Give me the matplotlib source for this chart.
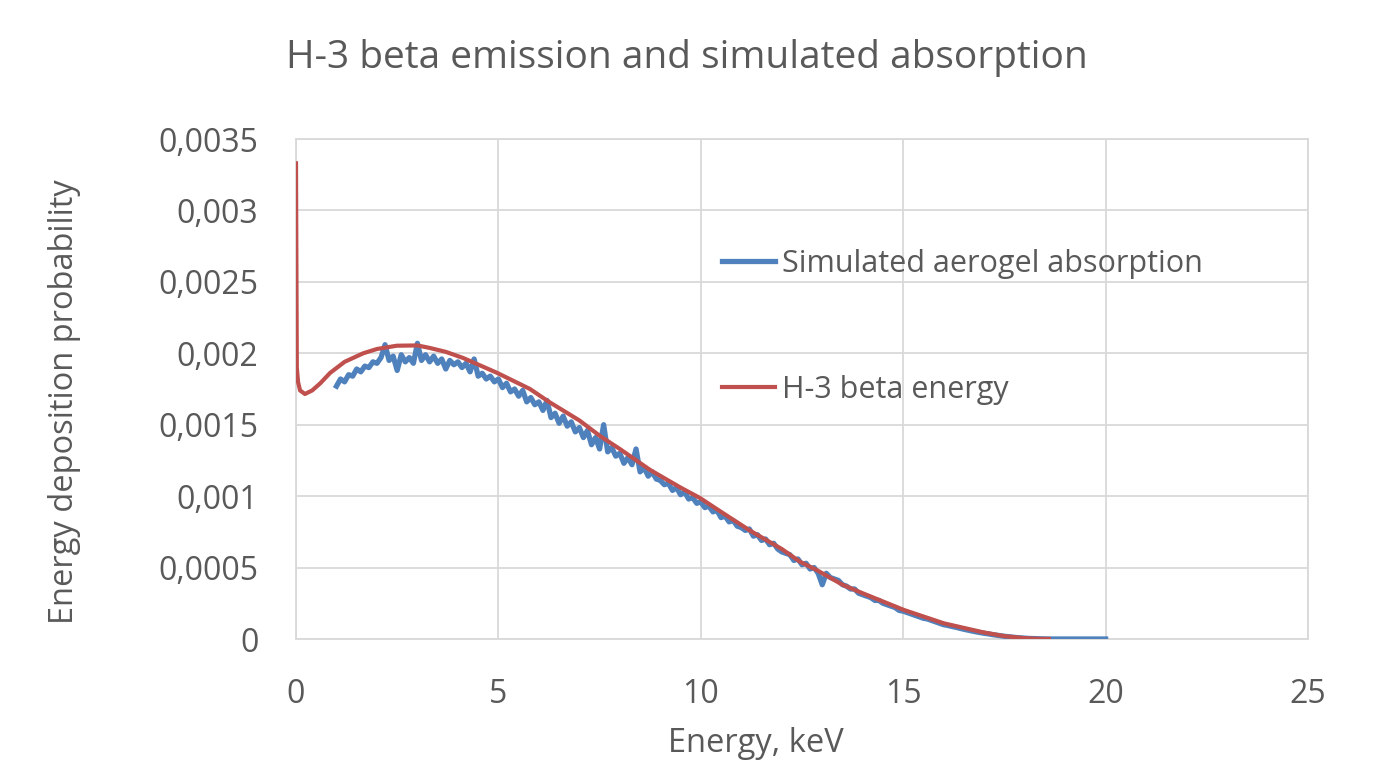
import numpy as np
import matplotlib.pyplot as plt
from matplotlib.ticker import FuncFormatter

plt.rcParams['font.family'] = ['Open Sans', 'DejaVu Sans']

# H-3 beta energy spectrum, values in units of 1e-3
beta_x = [0, 0.02, 0.05, 0.1, 0.22, 0.4, 0.6, 0.84, 1.2, 1.66, 2.0, 2.49, 3.0,
          3.31, 3.7, 4.13, 4.96, 5.78, 6.25, 7.0, 7.51, 8.0, 8.75, 9.5, 9.98,
          10.5, 11.22, 12.0, 12.45, 12.86, 13.5, 14.0, 15.02, 16.0, 16.97,
          17.5, 18.0, 18.3, 18.6]
beta_e3 = [3.33, 1.90, 1.80, 1.74, 1.715, 1.74, 1.79, 1.862, 1.94, 2.00, 2.03,
           2.053, 2.055, 2.037, 2.01, 1.967, 1.864, 1.75, 1.66, 1.53, 1.421,
           1.33, 1.183, 1.06, 0.987, 0.89, 0.758, 0.63, 0.541, 0.483, 0.38,
           0.32, 0.203, 0.11, 0.047, 0.02, 0.006, 0.0015, 0.0]

# simulated aerogel absorption, sampled every 0.1 keV from 1.0 to 20.0 keV
aerogel_x = np.round(np.arange(1.0, 20.05, 0.1), 1)
aerogel_e3 = [
    1.77, 1.82, 1.80, 1.85, 1.84, 1.89, 1.87, 1.91, 1.90, 1.94,
    1.93, 1.97, 2.06, 1.95, 1.98, 1.88, 1.99, 1.94, 1.97, 1.93,
    2.07, 1.95, 1.99, 1.94, 1.98, 1.93, 1.96, 1.89, 1.95, 1.92,
    1.94, 1.90, 1.93, 1.87, 1.96, 1.84, 1.86, 1.82, 1.84, 1.80,
    1.82, 1.76, 1.79, 1.73, 1.75, 1.70, 1.74, 1.66, 1.69, 1.64,
    1.66, 1.60, 1.67, 1.55, 1.58, 1.51, 1.56, 1.49, 1.52, 1.45,
    1.48, 1.41, 1.46, 1.36, 1.41, 1.33, 1.50, 1.31, 1.34, 1.28,
    1.30, 1.23, 1.27, 1.22, 1.33, 1.17, 1.20, 1.14, 1.17, 1.12,
    1.11, 1.08, 1.09, 1.04, 1.06, 1.01, 1.03, 0.98, 0.99, 0.95,
    0.96, 0.92, 0.93, 0.89, 0.90, 0.85, 0.86, 0.82, 0.83, 0.79,
    0.78, 0.76, 0.77, 0.72, 0.73, 0.69, 0.70, 0.66, 0.67, 0.63,
    0.61, 0.60, 0.59, 0.55, 0.56, 0.52, 0.53, 0.49, 0.50, 0.46,
    0.38, 0.46, 0.43, 0.42, 0.41, 0.38, 0.37, 0.35, 0.35, 0.32,
    0.31, 0.30, 0.29, 0.27, 0.27, 0.25, 0.24, 0.23, 0.22, 0.20,
    0.195, 0.185, 0.175, 0.165, 0.155, 0.145, 0.14, 0.13, 0.12, 0.11,
    0.10, 0.095, 0.088, 0.082, 0.075, 0.068, 0.062, 0.056, 0.050, 0.045,
    0.040, 0.036, 0.031, 0.027, 0.023, 0.019, 0.016, 0.013, 0.010, 0.008,
    0.006, 0.004, 0.003, 0.002, 0.001, 0.0005, 0, 0, 0, 0,
    0, 0, 0, 0, 0, 0, 0, 0, 0, 0, 0,
]

x_ticks = [0, 5, 10, 15, 20, 25]
y_ticks = [0, 0.0005, 0.001, 0.0015, 0.002, 0.0025, 0.003, 0.0035]

gray = '#595959'
grid_col = '#d9d9d9'

fig = plt.figure(figsize=(13.76, 7.64), dpi=100)
ax = fig.add_axes([296 / 1376, 1 - 639 / 764, (1308 - 296) / 1376, 500 / 764])

ax.plot(aerogel_x, np.array(aerogel_e3) * 1e-3, color='#4f81bd', lw=3.8,
        label='Simulated aerogel absorption', zorder=3)
ax.plot(beta_x, np.array(beta_e3) * 1e-3, color='#c0504d', lw=3.0,
        label='H-3 beta energy', zorder=4)

ax.set_xlim(0, 25)
ax.set_ylim(0, 0.0035)
ax.set_xticks(x_ticks)
ax.set_yticks(y_ticks)
ax.yaxis.set_major_formatter(FuncFormatter(lambda v, p: ('%g' % v).replace('.', ',') if v != 0 else '0'))
ax.tick_params(length=0, labelsize=23, colors=gray)
ax.tick_params(axis='y', pad=27)
ax.tick_params(axis='x', pad=28)
ax.grid(True, color=grid_col, lw=1.3)
ax.set_axisbelow(True)
for s in ax.spines.values():
    s.set_color(grid_col)
    s.set_linewidth(1.3)

fig.text(0.4995, 0.924, 'H-3 beta emission and simulated absorption',
         ha='center', va='center', fontsize=28, color=gray)
fig.text(65 / 1376, 0.474, 'Energy deposition probability', rotation=90,
         ha='center', va='center', fontsize=23.5, color=gray)
fig.text(756 / 1376, 1 - 743 / 764, 'Energy, keV',
         ha='center', va='center', fontsize=23.5, color=gray)

ax.legend(loc='center left', bbox_to_anchor=(722 / 1376, 1 - 327 / 764),
          bbox_transform=fig.transFigure, frameon=False, fontsize=22,
          labelcolor=gray, handlelength=1.75, handletextpad=0.2,
          labelspacing=3.15, borderpad=0, borderaxespad=0)

plt.savefig('out.png', dpi=100)
